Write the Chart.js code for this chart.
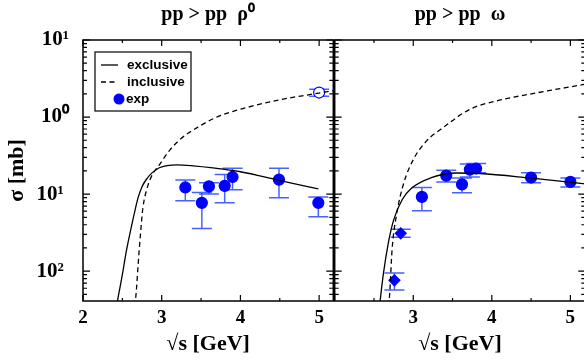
<!DOCTYPE html>
<html>
<head>
<meta charset="utf-8">
<script src="https://cdn.jsdelivr.net/npm/chart.js@4"></script>
<style>
  body { margin: 0; background: #fff; }
  #wrap { position: relative; width: 584px; height: 360px; overflow: hidden; background: #fff; }
  canvas { position: absolute; top: 0; }
</style>
</head>
<body>
<div id="wrap">
  <canvas id="rho" width="340" height="360" style="left:0"></canvas>
  <canvas id="omega" width="264" height="360" style="left:328px"></canvas>
</div>
<script>
// pp -> pp rho0 / omega cross sections, two log panels

const yTickVals = [0.01, 0.1, 1, 10];
const yTickLabels = ["10\u00b2\u2005", "10\u00b9\u2005", "10\u2070", "10\u00b9"];
const xTicksRho = [2, 3, 4, 5];
const xTicksOmega = [3, 4, 5];

// rho0 panel
const rhoExclX = [2.42, 2.50, 2.55, 2.60, 2.65, 2.70, 2.75, 2.81, 2.88, 2.97, 3.07, 3.19, 3.40, 3.65, 4.00, 4.49, 4.99];
const rhoExclY = [0.0033, 0.009, 0.018, 0.032, 0.055, 0.09, 0.125, 0.158, 0.19, 0.22, 0.235, 0.24, 0.233, 0.219, 0.195, 0.151, 0.117];
const rhoInclX = [2.66, 2.68, 2.70, 2.73, 2.76, 2.81, 2.87, 2.97, 3.10, 3.25, 3.48, 3.73, 4.07, 4.49, 4.91, 5.18];
const rhoInclY = [0.0035, 0.006, 0.012, 0.03, 0.065, 0.115, 0.17, 0.24, 0.37, 0.53, 0.76, 1.03, 1.32, 1.67, 1.98, 2.2];
const rhoExpX  = [3.30, 3.51, 3.60, 3.80, 3.90, 4.49, 4.99];
const rhoExpY  = [0.122, 0.077, 0.126, 0.128, 0.167, 0.154, 0.077];
const rhoExpHi = [0.153, 0.105, 0.14, 0.18, 0.216, 0.216, 0.092];
const rhoExpLo = [0.082, 0.0357, 0.10, 0.077, 0.114, 0.090, 0.051];
const rhoOpenX  = [5.0];
const rhoOpenY  = [2.08];
const rhoOpenHi = [2.3];
const rhoOpenLo = [1.86];

// omega panel
const omExclX = [2.57, 2.62, 2.69, 2.75, 2.86, 2.98, 3.22, 3.55, 3.85, 4.48, 5.19];
const omExclY = [0.0035, 0.0093, 0.0254, 0.046, 0.085, 0.12, 0.162, 0.188, 0.185, 0.162, 0.136];
const omInclX = [2.685, 2.70, 2.73, 2.79, 2.88, 3.0, 3.17, 3.38, 3.72, 4.06, 4.48, 5.19];
const omInclY = [0.0035, 0.0051, 0.0188, 0.056, 0.14, 0.28, 0.49, 0.73, 1.26, 1.62, 1.98, 2.67];
const omDiaX  = [2.76, 2.84];
const omDiaY  = [0.0076, 0.031];
const omDiaHi = [0.0095, 0.035];
const omDiaLo = [0.0057, 0.0275];
const omExpX  = [3.11, 3.42, 3.62, 3.72, 3.80, 4.50, 5.0];
const omExpY  = [0.092, 0.174, 0.134, 0.208, 0.215, 0.164, 0.144];
const omExpHi = [0.122, 0.204, 0.162, 0.246, 0.25, 0.19, 0.162];
const omExpLo = [0.061, 0.144, 0.104, 0.167, 0.19, 0.14, 0.124];

const SERIF = "'Liberation Serif', 'Times New Roman', serif";
const SANS = "'Liberation Sans', Arial, sans-serif";
const BLUE = "#0000ff";

const pts = (xs, ys) => xs.map((x, i) => ({ x, y: ys[i] }));

const errorBars = {
  id: "errorBars",
  beforeDatasetsDraw(chart) {
    const { ctx, chartArea: a, scales: { x, y } } = chart;
    ctx.save();
    ctx.beginPath();
    ctx.rect(a.left, a.top, a.right - a.left, a.bottom - a.top);
    ctx.clip();
    ctx.strokeStyle = "rgba(40,70,255,0.85)";
    ctx.lineWidth = 1.5;
    chart.data.datasets.forEach(ds => {
      if (!ds.errHi) return;
      ds.data.forEach((p, i) => {
        const px = x.getPixelForValue(p.x);
        const yh = y.getPixelForValue(ds.errHi[i]);
        const yl = y.getPixelForValue(ds.errLo[i]);
        ctx.beginPath();
        ctx.moveTo(px, yh); ctx.lineTo(px, yl);
        ctx.moveTo(px - 10, yh); ctx.lineTo(px + 10, yh);
        ctx.moveTo(px - 10, yl); ctx.lineTo(px + 10, yl);
        ctx.stroke();
      });
    });
    ctx.restore();
  }
};

const frame = {
  id: "frame",
  afterDatasetsDraw(chart) {
    const { ctx, chartArea: a, scales: { x, y } } = chart;
    ctx.save();
    ctx.strokeStyle = "#000";
    ctx.lineWidth = 1.5;
    ctx.strokeRect(a.left, a.top, a.right - a.left, a.bottom - a.top);
    ctx.lineWidth = 1.2;
    ctx.beginPath();
    for (let v = 2; v <= x.max; v += 0.5) {
      const px = x.getPixelForValue(v);
      const len = Number.isInteger(v) ? 6 : 3;
      ctx.moveTo(px, a.bottom); ctx.lineTo(px, a.bottom - len);
      ctx.moveTo(px, a.top); ctx.lineTo(px, a.top + len);
    }
    for (let d = -3; d <= 1; d++) {
      for (let m = 1; m <= 9; m++) {
        const v = m * Math.pow(10, d);
        if (v < y.min || v > y.max * 1.0001) continue;
        const py = y.getPixelForValue(v);
        const len = m === 1 ? 7 : 4;
        ctx.moveTo(a.left, py); ctx.lineTo(a.left + len, py);
        ctx.moveTo(a.right, py); ctx.lineTo(a.right - len, py);
      }
    }
    ctx.stroke();
    ctx.restore();
  }
};

const legendBox = {
  id: "legendBox",
  afterDraw(chart) {
    if (!chart.options.plugins.legendBox) return;
    const { ctx, chartArea: a } = chart;
    const ds = chart.data.datasets;
    const bx = a.left + 12, by = a.top + 12;
    ctx.save();
    ctx.fillStyle = "#fff";
    ctx.fillRect(bx, by, 96, 59);
    ctx.strokeStyle = "#000";
    ctx.lineWidth = 1.2;
    ctx.strokeRect(bx, by, 96, 59);
    ctx.font = "bold 13.5px " + SANS;
    ctx.textBaseline = "middle";
    ctx.fillStyle = "#000";
    [ds[0], ds[1]].forEach((d, i) => {
      const ly = by + 13 + i * 17;
      ctx.beginPath();
      ctx.setLineDash(d.borderDash || []);
      ctx.lineWidth = 1.3;
      ctx.moveTo(bx + 6, ly); ctx.lineTo(bx + 23, ly);
      ctx.stroke();
      ctx.setLineDash([]);
      ctx.fillText(d.label, bx + 32, ly);
    });
    const ey = by + 47;
    ctx.beginPath();
    ctx.fillStyle = BLUE;
    ctx.arc(bx + 24, ey, 5.5, 0, Math.PI * 2);
    ctx.fill();
    ctx.fillStyle = "#000";
    ctx.fillText(ds[2].label, bx + 31, ey);
    ctx.restore();
  }
};

function lineSet(label, xs, ys, dash) {
  return {
    label, data: pts(xs, ys), borderColor: "#000", borderWidth: 1.3,
    borderDash: dash, pointRadius: 0, cubicInterpolationMode: "monotone", fill: false
  };
}

function pointSet(label, xs, ys, hi, lo, style, fill) {
  return {
    label, data: pts(xs, ys), showLine: false, errHi: hi, errLo: lo,
    pointStyle: style, pointRadius: 5.5, pointBorderWidth: 1.2,
    pointBackgroundColor: fill, pointBorderColor: BLUE, borderColor: BLUE
  };
}

function makeChart(id, cfg) {
  return new Chart(document.getElementById(id), {
    type: "line",
    data: { datasets: cfg.datasets },
    plugins: [errorBars, frame, legendBox],
    options: {
      responsive: false,
      animation: false,
      devicePixelRatio: 1,
      layout: { padding: cfg.padding },
      plugins: {
        legend: { display: false },
        tooltip: { enabled: false },
        legendBox: cfg.legend,
        title: {
          display: true, text: cfg.title, fullSize: false, color: "#000",
          font: { family: SERIF, weight: "bold", size: 20 },
          padding: { top: 3, bottom: 13 }
        }
      },
      scales: {
        x: {
          type: "linear", min: 2, max: cfg.xMax,
          afterBuildTicks: s => { s.ticks = cfg.xTicks.map(v => ({ value: v })); },
          ticks: { color: "#000", font: { family: SERIF, weight: "bold", size: 19 }, padding: 6, autoSkip: false, maxRotation: 0 },
          grid: { display: false, drawTicks: false },
          border: { display: false },
          title: {
            display: true, text: "\u221as [GeV]", color: "#000",
            font: { family: SERIF, weight: "bold", size: 22 }, padding: { top: 0, bottom: 2 }
          },
          afterFit: s => { s.height = 59; }
        },
        y: {
          type: "logarithmic", min: 0.0041, max: 10,
          afterBuildTicks: s => { s.ticks = yTickVals.map(v => ({ value: v })); },
          ticks: {
            display: cfg.yLabels, color: "#000", padding: 14,
            font: { family: SERIF, weight: "bold", size: 21 },
            callback: v => yTickLabels[yTickVals.indexOf(v)]
          },
          grid: { display: false, drawTicks: false },
          border: { display: false },
          title: {
            display: cfg.yLabels, text: "\u03c3 [mb]", color: "#000",
            font: { family: SERIF, weight: "bold", size: 22 }, padding: 0
          },
          afterFit: s => { s.width = cfg.yWidth; }
        }
      }
    }
  });
}

makeChart("rho", {
  title: "pp > pp  \u03c1\u2070",
  xMax: 5.18, xTicks: xTicksRho, yLabels: true, yWidth: 79, legend: true,
  padding: { left: 4, right: 6, top: 0, bottom: 0 },
  datasets: [
    lineSet("exclusive", rhoExclX, rhoExclY, []),
    lineSet("inclusive", rhoInclX, rhoInclY, [5, 3.5]),
    pointSet("exp", rhoExpX, rhoExpY, rhoExpHi, rhoExpLo, "circle", BLUE),
    pointSet("exp open", rhoOpenX, rhoOpenY, rhoOpenHi, rhoOpenLo, "circle", "#fff")
  ]
});

makeChart("omega", {
  title: "pp > pp  \u03c9",
  xMax: 5.19, xTicks: xTicksOmega, yLabels: false, yWidth: 6, legend: false,
  padding: { left: 0, right: 6, top: 0, bottom: 0 },
  datasets: [
    lineSet("exclusive", omExclX, omExclY, []),
    lineSet("inclusive", omInclX, omInclY, [5, 3.5]),
    pointSet("exp", omExpX, omExpY, omExpHi, omExpLo, "circle", BLUE),
    pointSet("exp diamond", omDiaX, omDiaY, omDiaHi, omDiaLo, "rectRot", BLUE)
  ]
});
</script>
</body>
</html>
